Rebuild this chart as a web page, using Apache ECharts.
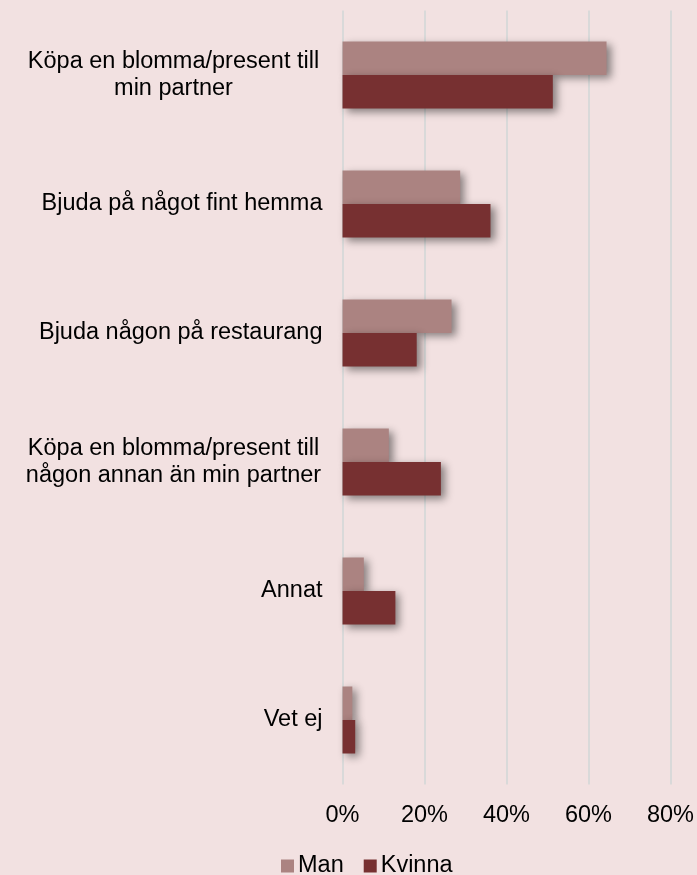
<!DOCTYPE html>
<html>
<head>
<meta charset="utf-8">
<script src="https://cdn.jsdelivr.net/npm/echarts@6/dist/echarts.min.js"></script>
<style>
  html, body { margin: 0; padding: 0; background: #f2e1e1; }
  #chart { width: 697px; height: 875px; }
</style>
</head>
<body>
<div id="chart"></div>
<script>
const categories = [
  'Köpa en blomma/present till\nmin partner',
  'Bjuda på något fint hemma',
  'Bjuda någon på restaurang',
  'Köpa en blomma/present till\nnågon annan än min partner',
  'Annat',
  'Vet ej'
]
const manValues = [64.4, 28.7, 26.6, 11.3, 5.2, 2.4]
const kvinnaValues = [51.3, 36.1, 18.1, 24, 12.9, 3.1]
const xTicks = [0, 20, 40, 60, 80]

const chart = echarts.init(document.getElementById('chart'))

const fs = 23.5

const shadow = {
  shadowColor: 'rgba(0, 0, 0, 0.45)',
  shadowBlur: 8,
  shadowOffsetX: 4,
  shadowOffsetY: 3
}

chart.setOption({
  backgroundColor: '#f2e1e1',
  textStyle: { fontFamily: 'Liberation Sans, Arial, sans-serif' },
  animation: false,
  grid: { left: 342.5, right: 26.5, top: 10.5, bottom: 90.5, containLabel: false },
  legend: {
    top: 849,
    left: 276,
    itemWidth: 13,
    itemHeight: 13,
    itemGap: 20,
    icon: 'rect',
    textStyle: { fontSize: fs, color: '#000', padding: [0, 0, 0, -1] },
    data: ['Man', 'Kvinna']
  },
  xAxis: {
    type: 'value',
    min: xTicks[0],
    max: xTicks[xTicks.length - 1],
    interval: 20,
    axisLine: { show: false },
    axisTick: { show: false },
    splitLine: { show: true, lineStyle: { color: '#d9d9d9', width: 2 } },
    axisLabel: { formatter: '{value}%', fontSize: fs, color: '#000', margin: 19 }
  },
  yAxis: {
    type: 'category',
    inverse: true,
    data: categories,
    axisLine: { show: false },
    axisTick: { show: false },
    axisLabel: {
      fontSize: fs,
      color: '#000',
      margin: 20,
      lineHeight: 27,
      formatter: (v) => {
        if (v.indexOf('\n') < 0) return v
        return v.split('\n').map(s => '{m|' + s + '}').join('\n')
      },
      rich: {
        m: { width: 298, align: 'center', fontSize: fs, lineHeight: 27, color: '#000' }
      }
    }
  },
  series: [
    {
      name: 'Man',
      type: 'bar',
      data: manValues,
      barWidth: 33.5,
      barGap: '0%',
      itemStyle: Object.assign({ color: '#ab8381' }, shadow)
    },
    {
      name: 'Kvinna',
      type: 'bar',
      data: kvinnaValues,
      barWidth: 33.5,
      barGap: '0%',
      itemStyle: Object.assign({ color: '#773031' }, shadow)
    }
  ]
})
</script>
</body>
</html>
